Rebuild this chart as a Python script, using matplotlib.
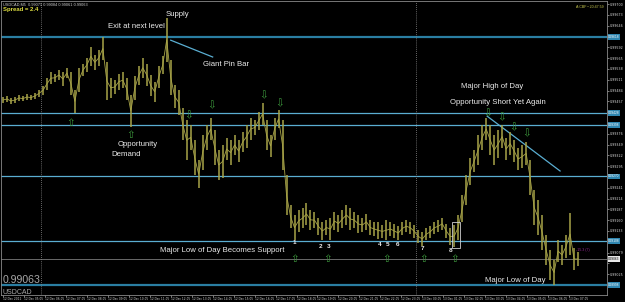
import matplotlib
matplotlib.use("Agg")
import matplotlib.pyplot as plt
from matplotlib.patches import Rectangle

# ---------------- data ----------------
symbol = "USDCAD"
header_label = "USDCAD,M5  0.99071 0.99084 0.99061 0.99063"
spread_label = "Spread = 2.4"
clock_label = "A:CBF \u2022 20:47:59"
pending_label = "-15.3 (7)"
last_price = 0.99063

# bar highs / lows in pipettes (price * 1e5)
bar_high_pts = [
    99468, 99470, 99466, 99468, 99473, 99470, 99476, 99473, 99478, 99486,
    99496, 99516, 99530, 99526, 99536, 99530, 99540, 99530, 99486, 99540,
    99550, 99566, 99593, 99573, 99586, 99618, 99556, 99516, 99510, 99526,
    99530, 99516, 99473, 99520, 99546, 99566, 99550, 99523, 99506, 99546,
    99570, 99666, 99560, 99498, 99486, 99440, 99410, 99398, 99360, 99310,
    99373, 99398, 99416, 99386, 99336, 99348, 99366, 99360, 99373, 99360,
    99380, 99398, 99416, 99410, 99430, 99453, 99410, 99373, 99416, 99436,
    99410, 99273, 99198, 99173, 99186, 99190, 99203, 99186, 99180, 99166,
    99156, 99160, 99166, 99180, 99173, 99186, 99198, 99190, 99180, 99173,
    99166, 99176, 99160, 99156, 99156, 99148, 99160, 99156, 99150, 99146,
    99156, 99160, 99156, 99148, 99136, 99130, 99140, 99146, 99156, 99160,
    99166, 99150, 99140, 99148, 99173, 99223, 99273, 99316, 99336, 99373,
    99398, 99416, 99398, 99373, 99386, 99398, 99366, 99380, 99360, 99340,
    99348, 99356, 99310, 99236, 99210, 99173, 99123, 99086, 99060, 99110,
    99098, 99123, 99178, 99090, 99080,
]
bar_low_pts = [
    99453, 99456, 99450, 99453, 99458, 99458, 99460, 99460, 99463, 99468,
    99473, 99486, 99500, 99506, 99510, 99496, 99516, 99473, 99428, 99480,
    99520, 99530, 99546, 99536, 99546, 99560, 99460, 99466, 99476, 99486,
    99490, 99460, 99393, 99460, 99498, 99516, 99496, 99470, 99456, 99490,
    99526, 99556, 99473, 99440, 99423, 99360, 99310, 99336, 99273, 99240,
    99286, 99336, 99360, 99298, 99260, 99266, 99310, 99298, 99323, 99306,
    99330, 99340, 99360, 99373, 99386, 99398, 99336, 99318, 99360, 99390,
    99286, 99173, 99140, 99110, 99130, 99140, 99148, 99136, 99140, 99123,
    99110, 99123, 99110, 99136, 99130, 99140, 99148, 99136, 99140, 99128,
    99130, 99136, 99123, 99120, 99113, 99116, 99110, 99120, 99116, 99110,
    99123, 99130, 99126, 99116, 99103, 99096, 99110, 99116, 99126, 99130,
    99136, 99116, 99098, 99093, 99110, 99156, 99198, 99248, 99280, 99298,
    99336, 99360, 99323, 99298, 99316, 99340, 99310, 99323, 99306, 99286,
    99290, 99298, 99223, 99148, 99123, 99086, 99048, 99010, 98998, 99056,
    99048, 99066, 99073, 99036, 99046,
]

level_prices = [0.99618, 0.99428, 0.99398, 0.99270, 0.99108, 0.98998]
level_major = [True, False, False, False, False, True]

day_separator_bars = [9.5, 103.5]

pinbar_line_bars = [42, 52.5]
pinbar_line_prices = [0.99610, 0.99568]
trend_line_bars = [121.25, 139.5]
trend_line_prices = [0.99420, 0.99283]

box_bars = [112.5, 114.5]
box_prices = [0.99090, 0.99156]

up_arrow_bars = [17, 32, 73, 81.25, 96, 105.25, 113]
up_arrow_prices = [0.99403, 0.99373, 0.99063, 0.99063, 0.99063, 0.99063, 0.99063]
down_arrow_bars = [46.5, 52.25, 65.25, 69.25, 121.25, 124.75, 127.75, 131]
down_arrow_prices = [0.99423, 0.99448, 0.99473, 0.99453, 0.99428, 0.99416, 0.99393, 0.99376]

notes = ["Exit at next level", "Supply", "Giant Pin Bar", "Opportunity", "Demand",
         "Major High of Day", "Opportunity Short Yet Again",
         "Major Low of Day Becomes Support", "Major Low of Day"]
note_bars = [33.5, 43.75, 55.75, 33.75, 30.75, 122.5, 124, 55, 128.25]
note_prices = [0.99645, 0.99673, 0.99550, 0.99350, 0.99325, 0.99493, 0.99455, 0.99085, 0.99010]

touch_labels = ["1", "2", "3", "4", "5", "6", "7", "8"]
touch_bars = [73, 79.5, 81.5, 94.25, 96.25, 98.75, 105, 112]
touch_prices = [0.99103, 0.99095, 0.99095, 0.99098, 0.99098, 0.99100, 0.99088, 0.99085]

price_ticks = [0.99700, 0.99673, 0.99646, 0.99619, 0.99592, 0.99565, 0.99538, 0.99511,
               0.99484, 0.99457, 0.99430, 0.99403, 0.99376, 0.99349, 0.99322, 0.99295,
               0.99268, 0.99241, 0.99214, 0.99187, 0.99160, 0.99133, 0.99106, 0.99079,
               0.99052, 0.99025, 0.98998]

time_tick_bars = [0, 5.25, 10.5, 15.75, 21, 26.25, 31.5, 36.75, 42, 47.25, 52.5, 57.75,
                  63, 68.25, 73.5, 78.75, 84, 89.25, 94.5, 99.75, 105, 110.25, 115.5,
                  120.75, 126, 131.25, 136.5, 141.75]
time_tick_labels = ["12 Dec 2011", "12 Dec 05:05", "12 Dec 06:05", "12 Dec 07:05",
                    "12 Dec 08:05", "12 Dec 09:05", "12 Dec 10:05", "12 Dec 11:05",
                    "12 Dec 12:05", "12 Dec 13:05", "12 Dec 14:05", "12 Dec 15:05",
                    "12 Dec 16:05", "12 Dec 17:05", "12 Dec 18:05", "12 Dec 19:05",
                    "12 Dec 20:05", "12 Dec 21:05", "12 Dec 22:05", "12 Dec 23:05",
                    "13 Dec 00:05", "13 Dec 01:05", "13 Dec 02:05", "13 Dec 03:05",
                    "13 Dec 04:05", "13 Dec 05:05", "13 Dec 06:05", "13 Dec 07:05"]

# ---------------- style ----------------
BG = "#000000"
BAR = "#a8a448"
LVL_MAJOR = "#2a7ea2"
LVL = "#5aaed2"
TXT = "#ececec"
ARROW = "#3d9a3d"
FONT = ["Liberation Sans", "DejaVu Sans"]

fig = plt.figure(figsize=(6.25, 3.02), dpi=100, facecolor=BG)
ax = fig.add_axes([0.0016, 0.0232, 0.9696, 0.9735])
ax.set_facecolor(BG)

highs = [v / 1e5 for v in bar_high_pts]
lows = [v / 1e5 for v in bar_low_pts]
idx = list(range(len(highs)))

# levels
for p, major in zip(level_prices, level_major):
    ax.axhline(p, color=LVL_MAJOR if major else LVL, lw=1.6 if major else 0.9, zorder=1)
ax.axhline(last_price, color="#7a7a7a", lw=0.6, zorder=1)
for b in day_separator_bars:
    ax.axvline(b, color="#8a8a8a", lw=0.6, ls=(0, (1, 1.5)), zorder=1)

# bars: high-low strokes joined by a thin line through the bar middles
ax.vlines(idx, lows, highs, color=BAR, lw=1.1, zorder=3)
mids = [(h + l) / 2 for h, l in zip(highs, lows)]
ax.plot(idx, mids, color=BAR, lw=0.6, zorder=3)

# drawn lines
ax.plot(pinbar_line_bars, pinbar_line_prices, color=LVL, lw=0.9, zorder=2)
ax.plot(trend_line_bars, trend_line_prices, color=LVL, lw=0.9, zorder=2)
ax.add_patch(Rectangle((box_bars[0], box_prices[0]), box_bars[1] - box_bars[0],
                       box_prices[1] - box_prices[0], fill=False, ec="#d0d0d0", lw=0.6, zorder=4))

# arrows
for b, p in zip(up_arrow_bars, up_arrow_prices):
    ax.text(b, p, "\u21e7", color=ARROW, fontsize=7.5, ha="center", va="center",
            family="DejaVu Sans", zorder=5)
for b, p in zip(down_arrow_bars, down_arrow_prices):
    ax.text(b, p, "\u21e9", color=ARROW, fontsize=7.5, ha="center", va="center",
            family="DejaVu Sans", zorder=5)

# notes
for t, b, p in zip(notes, note_bars, note_prices):
    ax.text(b, p, t, color=TXT, fontsize=5.6, ha="center", va="center", family=FONT, zorder=6)
for t, b, p in zip(touch_labels, touch_bars, touch_prices):
    ax.text(b, p, t, color=TXT, fontsize=4.6, ha="center", va="center", family=FONT,
            fontweight="bold", zorder=6)

ax.text(145.25, 0.99085, pending_label, color="#9a2a9a", fontsize=2.6, ha="center",
        va="center", family=FONT)

# corner texts
ax.text(0.004, 0.994, header_label, transform=ax.transAxes, color="#d0d0d0", fontsize=2.8,
        ha="left", va="top", family=FONT)
ax.text(0.004, 0.978, spread_label, transform=ax.transAxes, color="#e0e040", fontsize=4.3,
        ha="left", va="top", family=FONT, fontweight="bold")
ax.text(0.995, 0.985, clock_label, transform=ax.transAxes, color="#c8c850", fontsize=2.6,
        ha="right", va="top", family=FONT)
ax.text(0.003, 0.041, f"{last_price:.5f}", transform=ax.transAxes, color="#a8a8a8",
        fontsize=7.6, ha="left", va="baseline", family=FONT)
ax.text(0.003, 0.004, symbol, transform=ax.transAxes, color="#a8a8a8",
        fontsize=5, ha="left", va="baseline", family=FONT)

# axes
ax.set_xlim(-0.5, 151.25)
ax.set_ylim(0.98973, 0.99708)
ax.yaxis.tick_right()
ax.set_yticks(price_ticks)
tag_prices = level_prices + [last_price]
ax.set_yticklabels(["" if min(abs(v - t) for t in tag_prices) < 0.00012 else f"{v:.5f}"
                    for v in price_ticks])
ax.set_xticks(time_tick_bars)
ax.set_xticklabels(time_tick_labels)
ax.tick_params(axis="y", colors="#d8d8d8", labelsize=2.3, length=1.2, width=0.4, pad=0.6)
ax.tick_params(axis="x", colors="#d8d8d8", labelsize=2.1, length=1.2, width=0.4, pad=0.6)
for lab in ax.get_xticklabels():
    lab.set_horizontalalignment("left")
for s in ax.spines.values():
    s.set_color("#8a8a8a")
    s.set_linewidth(0.6)

# right-axis price tags
for p in level_prices:
    ax.text(1.002, p, f"{p:.5f}", transform=ax.get_yaxis_transform(), color="#ffffff",
            fontsize=2.3, ha="left", va="center", family=FONT,
            bbox=dict(boxstyle="square,pad=0.2", fc="#2f86b0", ec="none"), clip_on=False)
ax.text(1.002, last_price, f"{last_price:.5f}", transform=ax.get_yaxis_transform(),
        color="#000000", fontsize=2.3, ha="left", va="center", family=FONT,
        bbox=dict(boxstyle="square,pad=0.2", fc="#e8e8e8", ec="none"), clip_on=False)

fig.savefig("out.png", dpi=100, facecolor=BG)
